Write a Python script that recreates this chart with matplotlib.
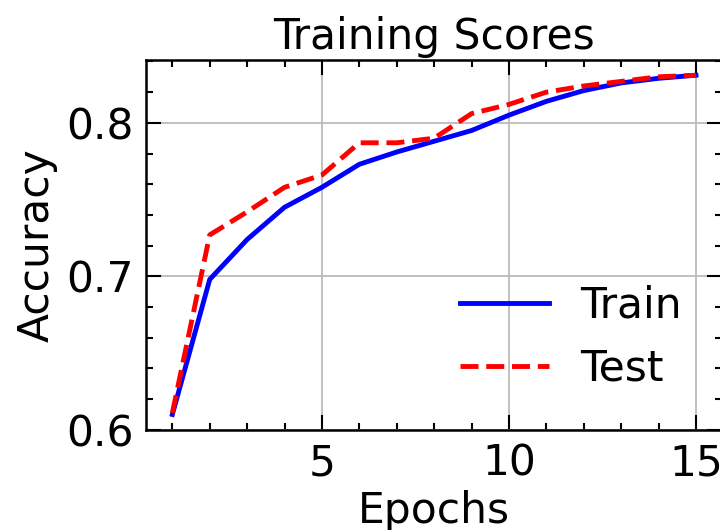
import numpy as np
import matplotlib
matplotlib.use('Agg')
import matplotlib.pyplot as plt
from matplotlib.ticker import MultipleLocator

epochs = list(range(1, 16))
train_acc = [0.610, 0.698, 0.724, 0.745, 0.758, 0.773, 0.781, 0.788, 0.795,
             0.805, 0.814, 0.821, 0.826, 0.829, 0.831]
test_acc = [0.611, 0.727, 0.742, 0.758, 0.766, 0.787, 0.787, 0.790, 0.806,
            0.812, 0.820, 0.824, 0.827, 0.830, 0.831]

plt.rcParams['font.family'] = 'DejaVu Sans'
plt.rcParams['font.size'] = 30.5

fig = plt.figure(figsize=(7.2, 5.3), dpi=100)
ax = fig.add_axes([0.203, 0.189, 0.80, 0.698])

ax.plot(epochs, train_acc, color='blue', lw=3.5, label='Train')
ax.plot(epochs, test_acc, color='red', lw=3.5, ls='--', label='Test')

ax.set_xlim(0.3, 15.7)
ax.set_ylim(0.6, 0.841)
ax.xaxis.set_major_locator(MultipleLocator(5))
ax.xaxis.set_minor_locator(MultipleLocator(1))
ax.yaxis.set_major_locator(MultipleLocator(0.1))
ax.yaxis.set_minor_locator(MultipleLocator(0.02))
ax.tick_params(which='both', direction='in', top=True, right=True, width=1.5,
               pad=9)
ax.tick_params(which='major', length=11)
ax.tick_params(which='minor', length=5)
for s in ax.spines.values():
    s.set_linewidth(1.8)
ax.grid(True, color='#bbbbbb', lw=1.3)

ax.set_title('Training Scores', fontsize=30.5, pad=8)
ax.set_xlabel('Epochs', labelpad=4)
ax.set_ylabel('Accuracy', labelpad=6)
ax.legend(loc='lower right', frameon=False, handlelength=2.1,
          handletextpad=0.75, borderaxespad=0.55)

fig.savefig('out.png', dpi=100)
